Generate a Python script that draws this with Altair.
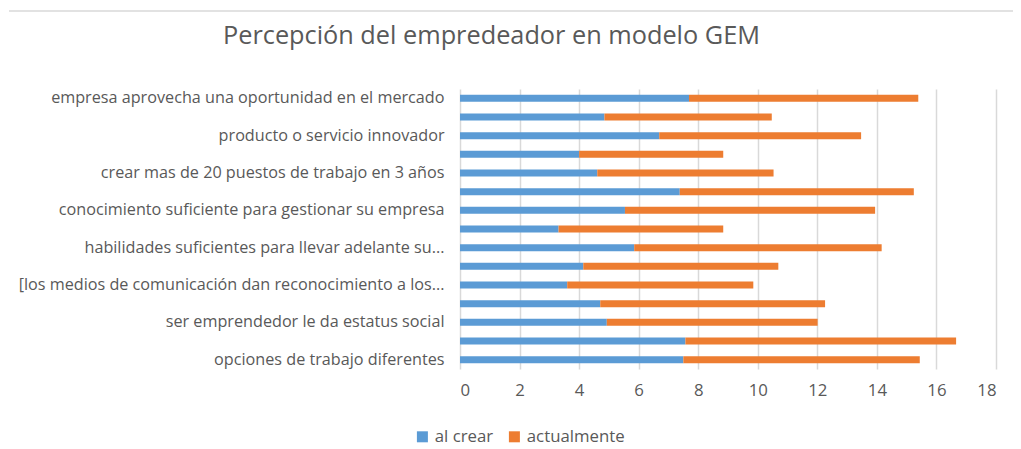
import altair as alt
import pandas as pd

title_text = ["Percepción del empredeador en modelo GEM"]
labels = [
    "empresa aprovecha una oportunidad en el mercado",
    "",
    "producto o servicio  innovador",
    "",
    "crear mas de 20 puestos de trabajo en 3 años",
    "",
    "conocimiento suficiente para gestionar su empresa",
    "",
    "habilidades suficientes para llevar adelante su...",
    "",
    "[los medios de comunicación dan reconocimiento a los...",
    "",
    "ser emprendedor le da estatus social",
    "",
    "opciones de trabajo diferentes",
]
al_crear = [7.69, 4.85, 6.69, 4.0, 4.61, 7.38, 5.54, 3.31, 5.85, 4.14, 3.60, 4.71, 4.93, 7.57, 7.50]
actualmente = [7.70, 5.62, 6.78, 4.84, 5.92, 7.86, 8.40, 5.53, 8.31, 6.55, 6.25, 7.55, 7.08, 9.09, 7.94]
series = ["al crear", "actualmente"]
colors = ["#5b9bd5", "#ed7d31"]
x_ticks = [0, 2, 4, 6, 8, 10, 12, 14, 16, 18]

rows = []
for i in range(len(labels)):
    rows.append({"idx": i, "serie": series[0], "valor": al_crear[i], "orden": 0})
    rows.append({"idx": i, "serie": series[1], "valor": actualmente[i], "orden": 1})
df = pd.DataFrame(rows)

label_js = "[" + ",".join('"' + s.replace('"', '\\"') + '"' for s in labels) + "]"

font = "Open Sans"
fs = 16.8
bars = alt.Chart(df).mark_bar(size=7).encode(
    y=alt.Y("idx:O", sort=list(range(len(labels))),
            axis=alt.Axis(title=None, labelExpr=label_js + "[datum.value]",
                          ticks=False, domain=False, labelFontSize=16.2,
                          labelColor="#595959", labelFont=font, labelPadding=16,
                          labelLimit=600)),
    x=alt.X("valor:Q", stack="zero",
            scale=alt.Scale(domain=[0, 18], nice=False),
            axis=alt.Axis(title=None, values=x_ticks, labelOverlap=False,
                          ticks=False, domain=False, grid=True, gridColor="#d9d9d9",
                          gridWidth=1.5,
                          labelFontSize=fs, labelColor="#595959", labelFont=font,
                          labelPadding=13)),
    color=alt.Color("serie:N", sort=series,
                    scale=alt.Scale(domain=series, range=colors),
                    legend=alt.Legend(title=None, orient="none", legendX=-46, legendY=339,
                                      direction="horizontal", symbolType="square",
                                      symbolSize=121, symbolStrokeWidth=0,
                                      labelFontSize=fs, labelColor="#595959",
                                      labelFont=font, columnPadding=12, labelOffset=4)),
    order=alt.Order("orden:Q"),
)

border = alt.Chart(pd.DataFrame({"a": [0]})).mark_rule(
    color="#d9d9d9", strokeWidth=1.5
).encode(x=alt.value(-451), x2=alt.value(561), y=alt.value(-78))

title = alt.Chart(pd.DataFrame({"t": title_text})).mark_text(
    align="left", baseline="alphabetic", font=font, fontSize=25.3, color="#595959"
).encode(text="t:N", x=alt.value(-237), y=alt.value(-45))

chart = alt.layer(bars, border, title).properties(
    width=536, height=280,
    autosize=alt.AutoSizeParams(type="none"),
    padding={"left": 452, "top": 81, "right": 17, "bottom": 80},
).configure_view(stroke=None)

chart.save("out.html", embed_options={"renderer": "svg", "actions": False})
